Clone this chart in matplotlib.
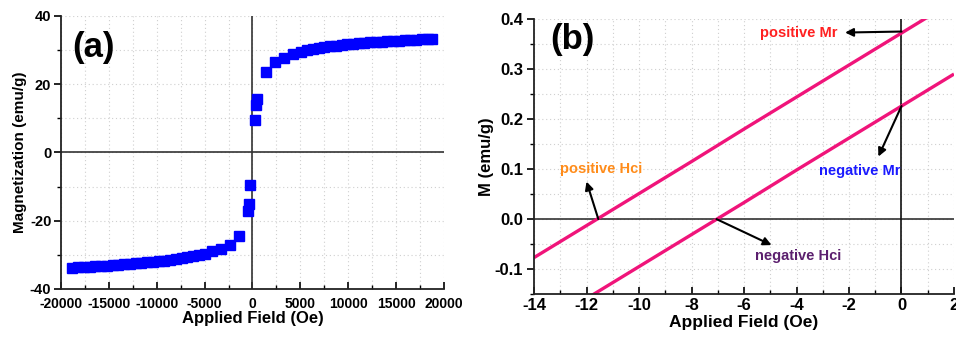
import numpy as np
import matplotlib
matplotlib.use("Agg")
import matplotlib.pyplot as plt
from matplotlib.ticker import MultipleLocator

plt.rcParams['font.family'] = ['Liberation Sans', 'DejaVu Sans']
plt.rcParams['font.weight'] = 'bold'
plt.rcParams['axes.unicode_minus'] = False

# (a) hysteresis data, field in Oe, magnetization in emu/g
field_a = [-18800, -18200, -17600, -17000, -16400, -15800, -15200, -14600,
           -14000, -13400, -12800, -12200, -11600, -11000, -10400, -9800,
           -9200, -8600, -8000, -7400, -6800, -6200, -5600, -5000, -4200,
           -3300, -2400, -1400, -450, -380, -220,
           220, 350, 480, 1400, 2350, 3300, 4200, 5100, 5700, 6300, 6900,
           7500, 8100, 8700, 9300, 9900, 10500, 11100, 11700, 12300, 12900,
           13500, 14100, 14700, 15300, 15900, 16500, 17100, 17700, 18300, 18800]
mag_a = [-33.8, -33.7, -33.6, -33.5, -33.4, -33.3, -33.2, -33.1,
         -32.9, -32.8, -32.7, -32.5, -32.4, -32.2, -32.1, -31.9,
         -31.7, -31.5, -31.2, -30.9, -30.6, -30.3, -30.0, -29.6, -29.0,
         -28.2, -27.2, -24.5, -17.2, -15.0, -9.6,
         9.6, 13.8, 15.8, 23.7, 26.4, 27.8, 28.8, 29.5, 29.9, 30.2, 30.5,
         30.8, 31.1, 31.3, 31.5, 31.7, 31.8, 32.0, 32.1, 32.3, 32.4,
         32.5, 32.6, 32.7, 32.8, 32.9, 33.0, 33.1, 33.2, 33.3, 33.3]

# (b) zoom near origin
field_b = [-14, -12, -10, -8, -6, -4, -2, 0, 2]
mag_pos = [-0.077, -0.013, 0.051, 0.115, 0.180, 0.244, 0.308, 0.372, 0.436]
mag_neg = [-0.223, -0.159, -0.095, -0.031, 0.033, 0.098, 0.162, 0.226, 0.290]

fig = plt.figure(figsize=(9.56, 3.4), dpi=100)
ax1 = fig.add_axes([0.0638, 0.15, 0.4006, 0.803])
ax2 = fig.add_axes([0.5586, 0.135, 0.4393, 0.809])

grid_kw = dict(color='#cfcfcf', lw=0.8, linestyle=(0, (1, 2.5)))

for ax in (ax1, ax2):
    for s in ('top', 'right'):
        ax.spines[s].set_visible(False)
    for s in ('left', 'bottom'):
        ax.spines[s].set_linewidth(1.3)
        ax.spines[s].set_color('#222222')
    ax.tick_params(axis='y', which='major', direction='out', length=5, width=1.2)
    ax.tick_params(axis='y', which='minor', direction='out', length=3, width=1)
    ax.tick_params(axis='x', which='major', direction='in', length=5, width=1.2)
    ax.tick_params(axis='x', which='minor', direction='in', length=3, width=1)
    ax.grid(True, which='both', **grid_kw)
    ax.set_axisbelow(True)

# panel (a)
ax1.plot(field_a, mag_a, 's', color='#0000ff', ms=7, mec='#0000ff')
ax1.axhline(0, color='#333333', lw=1.2, zorder=1)
ax1.axvline(0, color='#333333', lw=1.2, zorder=1)
ax1.set_xlim(-20000, 20000)
ax1.set_ylim(-40, 40)
ax1.xaxis.set_major_locator(MultipleLocator(5000))
ax1.xaxis.set_minor_locator(MultipleLocator(2500))
ax1.yaxis.set_major_locator(MultipleLocator(20))
ax1.yaxis.set_minor_locator(MultipleLocator(10))
ax1.tick_params(axis='x', labelsize=10, pad=6)
ax1.tick_params(axis='y', labelsize=10.5, pad=2)
for lab in ax1.get_xticklabels() + ax1.get_yticklabels():
    lab.set_fontweight('bold')
ax1.set_xlabel('Applied Field (Oe)', fontsize=12, fontweight='bold', labelpad=0)
ax1.set_ylabel('Magnetization (emu/g)', fontsize=11, fontweight='bold', labelpad=2)
ax1.text(0.03, 0.885, '(a)', transform=ax1.transAxes, fontsize=25,
         fontweight='bold', ha='left', va='center')

# panel (b)
ax2.plot(field_b, mag_pos, color='#f0147a', lw=2.4, solid_capstyle='butt')
ax2.plot(field_b, mag_neg, color='#f0147a', lw=2.4, solid_capstyle='butt')
ax2.axhline(0, color='#333333', lw=1.2, zorder=1)
ax2.axvline(0, color='#111111', lw=1.2, zorder=1)
ax2.set_xlim(-14, 2)
ax2.set_ylim(-0.15, 0.4)
ax2.xaxis.set_major_locator(MultipleLocator(2))
ax2.xaxis.set_minor_locator(MultipleLocator(1))
ax2.yaxis.set_major_locator(MultipleLocator(0.1))
ax2.yaxis.set_minor_locator(MultipleLocator(0.05))
ax2.yaxis.set_major_formatter(matplotlib.ticker.FormatStrFormatter('%.1f'))
ax2.tick_params(axis='both', labelsize=12, pad=3)
for lab in ax2.get_xticklabels() + ax2.get_yticklabels():
    lab.set_fontweight('bold')
ax2.set_xlabel('Applied Field (Oe)', fontsize=12.5, fontweight='bold', labelpad=1)
ax2.set_ylabel('M (emu/g)', fontsize=12, fontweight='bold', labelpad=0)
ax2.text(0.038, 0.924, '(b)', transform=ax2.transAxes, fontsize=25,
         fontweight='bold', ha='left', va='center')

arrow = dict(arrowstyle='-|>', color='black', lw=1.5, mutation_scale=12,
             shrinkA=0, shrinkB=0)
ax2.annotate('', xy=(-2.15, 0.373), xytext=(0, 0.375), arrowprops=arrow)
ax2.annotate('', xy=(-0.88, 0.125), xytext=(0, 0.226), arrowprops=arrow)
ax2.annotate('', xy=(-12.0, 0.075), xytext=(-11.55, 0.0), arrowprops=arrow)
ax2.annotate('', xy=(-4.95, -0.052), xytext=(-7.05, 0.0), arrowprops=arrow)

txt = dict(fontsize=10.5, fontweight='bold', va='center')
ax2.text(-5.4, 0.373, 'positive Mr', color='#ff2020', ha='left', **txt)
ax2.text(-0.05, 0.096, 'negative Mr', color='#1a1aff', ha='right', **txt)
ax2.text(-13.0, 0.101, 'positive Hci', color='#ff8c1a', ha='left', **txt)
ax2.text(-5.6, -0.074, 'negative Hci', color='#5b1f6e', ha='left', **txt)

fig.savefig('out.png', dpi=100)
